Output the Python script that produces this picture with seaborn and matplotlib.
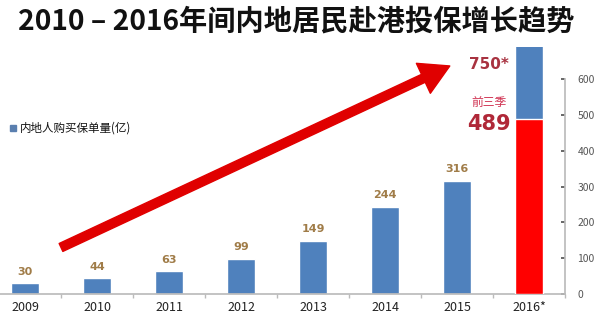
import matplotlib
matplotlib.use("Agg")
import matplotlib.pyplot as plt
import seaborn as sns
import pandas as pd

years = ["2009", "2010", "2011", "2012", "2013", "2014", "2015", "2016*"]
values = [30, 44, 63, 99, 149, 244, 316, 750]
q3_2016 = 489
label_texts = ["30", "44", "63", "99", "149", "244", "316"]
y_ticks = [0, 100, 200, 300, 400, 500, 600]
title = "2010 – 2016年间内地居民赴港投保增长趋势"
legend_label = "内地人购买保单量(亿)"

sns.set_theme(style="white")
plt.rcParams['font.family'] = ['Noto Sans CJK SC', 'DejaVu Sans']

BLUE = "#4F81BD"
RED = "#FF0000"
LABEL_C = "#A07C48"

fig = plt.figure(figsize=(5.96, 3.16), dpi=100)
W, H = 596, 316
x0, x1 = -11, 565
y_base, y_top = 294, 47
ax = fig.add_axes([x0 / W, (H - y_base) / H, (x1 - x0) / W, (y_base - y_top) / H])

df = pd.DataFrame({"year": years, "value": values})
sns.barplot(data=df, x="year", y="value", order=years, color=BLUE,
            width=0.4, saturation=1, ax=ax, zorder=2)
df2 = pd.DataFrame({"year": [years[-1]], "value": [q3_2016]})
sns.barplot(data=df2, x="year", y="value", order=years, color=RED,
            width=0.4, saturation=1, ax=ax, zorder=3)

ax.set_ylim(0, 690)
ax.set_xlim(-0.5, 7.5)
ax.set_xlabel("")
ax.set_ylabel("")

# right axis
ax.yaxis.tick_right()
ax.set_yticks(y_ticks)
ax.tick_params(axis="y", labelsize=7.5, colors="#555555", length=3, direction="in", pad=9)
for sp in ["top", "left"]:
    ax.spines[sp].set_visible(False)
ax.spines["right"].set_bounds(0, 600)
ax.spines["right"].set_color("#BBBBBB")
ax.spines["bottom"].set_color("#BBBBBB")

ax.set_xticks([i + 0.5 for i in range(-1, 8)], minor=True)
ax.tick_params(axis="x", which="minor", length=3, color="#BBBBBB", direction="out", bottom=True)
ax.tick_params(axis="x", which="major", length=0, labelsize=9, colors="#222222", pad=5)

for i, t in enumerate(label_texts):
    ax.text(i, values[i] + 18, t, ha="center", va="bottom", fontsize=8,
            color=LABEL_C, fontweight="bold", family=["DejaVu Sans"])

ax.text(6.45, 640, "750*", ha="center", va="center", fontsize=11,
        color="#A83240", fontweight="bold", family=["DejaVu Sans"])
ax.text(6.45, 535, "前三季", ha="center", va="center", fontsize=8.5, color="#D03050")
ax.text(6.45, 475, "489", ha="center", va="center", fontsize=15,
        color="#B02838", fontweight="bold", family=["DejaVu Sans"])

# big red arrow
ax.annotate("", xy=(5.9, 637), xytext=(0.5, 130),
            arrowprops=dict(arrowstyle="simple,head_length=1.5,head_width=1.7,tail_width=0.45",
                            color="#E00000", mutation_scale=14, shrinkA=0, shrinkB=0),
            zorder=4, annotation_clip=False)

fig.text(18 / W, 1 - 22 / H, title, fontsize=20.3, fontweight="bold",
         color="#111111", va="center", ha="left")

# legend
fig.patches.append(plt.Rectangle((10 / W, 1 - 131 / H), 6 / W, 6 / H,
                                 transform=fig.transFigure, color="#5A7FAF"))
fig.text(20 / W, 1 - 128 / H, legend_label, fontsize=8.3, va="center", ha="left",
         color="#111111")

fig.savefig("out.png", dpi=100)
